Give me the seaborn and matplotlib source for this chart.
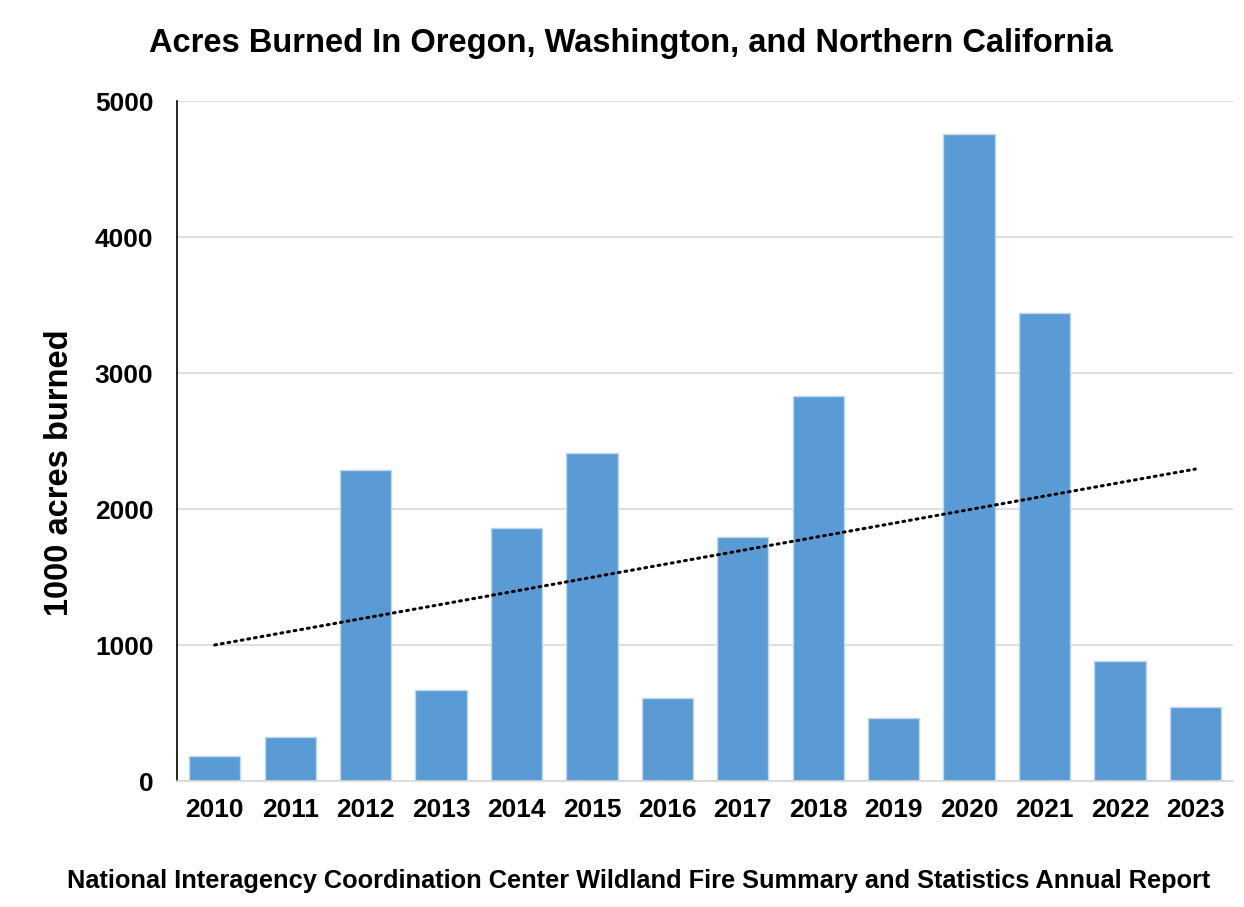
import numpy as np
import pandas as pd
import matplotlib
matplotlib.use('Agg')
import matplotlib.pyplot as plt
import seaborn as sns

years = ['2010', '2011', '2012', '2013', '2014', '2015', '2016',
         '2017', '2018', '2019', '2020', '2021', '2022', '2023']
acres_k = [184, 324, 2287, 669, 1860, 2412, 610,
           1794, 2831, 463, 4757, 3441, 882, 544]
y_ticks = [0, 1000, 2000, 3000, 4000, 5000]

sns.set_theme(style='white')
plt.rcParams['font.family'] = ['Liberation Sans', 'DejaVu Sans']
plt.rcParams['font.weight'] = 'bold'
plt.rcParams['text.color'] = 'black'
plt.rcParams['xtick.color'] = 'black'
plt.rcParams['ytick.color'] = 'black'
plt.rcParams['axes.labelcolor'] = 'black'

df = pd.DataFrame({'year': years, 'acres': acres_k})

fig = plt.figure(figsize=(12.44, 9.07), dpi=100)
ax = fig.add_axes([0.1423, 0.1389, 0.8489, 0.7497])

sns.barplot(data=df, x='year', y='acres', color='#5b9bd5', saturation=1,
            width=0.68, edgecolor='#bdd7ee', linewidth=1, ax=ax, zorder=2)

# linear trend line over the bars
xs = np.arange(len(years))
slope, icpt = np.polyfit(xs, acres_k, 1)
ax.plot(xs, slope * xs + icpt, color='black', linestyle=(0, (0.6, 1.6)),
        linewidth=2.2, dash_capstyle='round', zorder=3)

ax.set_xlim(-0.5, len(years) - 0.5)
ax.set_ylim(0, 5000)
ax.set_yticks(y_ticks)
ax.yaxis.grid(True, color='#d9d9d9', linewidth=1.2, zorder=0)
ax.set_axisbelow(True)
ax.tick_params(axis='both', length=0, labelsize=19, colors='black')
ax.tick_params(axis='x', pad=12)
ax.tick_params(axis='y', pad=17)
for lbl in ax.get_xticklabels() + ax.get_yticklabels():
    lbl.set_fontweight('bold')

for s in ['top', 'right']:
    ax.spines[s].set_visible(False)
ax.spines['left'].set_color('black')
ax.spines['left'].set_linewidth(1.2)
ax.spines['bottom'].set_color('#d9d9d9')
ax.spines['bottom'].set_linewidth(1.2)

ax.set_xlabel('')
ax.set_ylabel('1000 acres burned', fontsize=23.5, fontweight='bold')
ax.yaxis.set_label_coords(-0.0966, 0.454)

fig.text(0.507, 0.952, 'Acres Burned In Oregon, Washington, and Northern California',
         ha='center', va='center', fontsize=23.5, fontweight='bold')
fig.text(0.513, 0.029,
         'National Interagency Coordination Center Wildland Fire Summary and Statistics Annual Report',
         ha='center', va='center', fontsize=18.3, fontweight='bold')

fig.savefig('out.png', dpi=100)
